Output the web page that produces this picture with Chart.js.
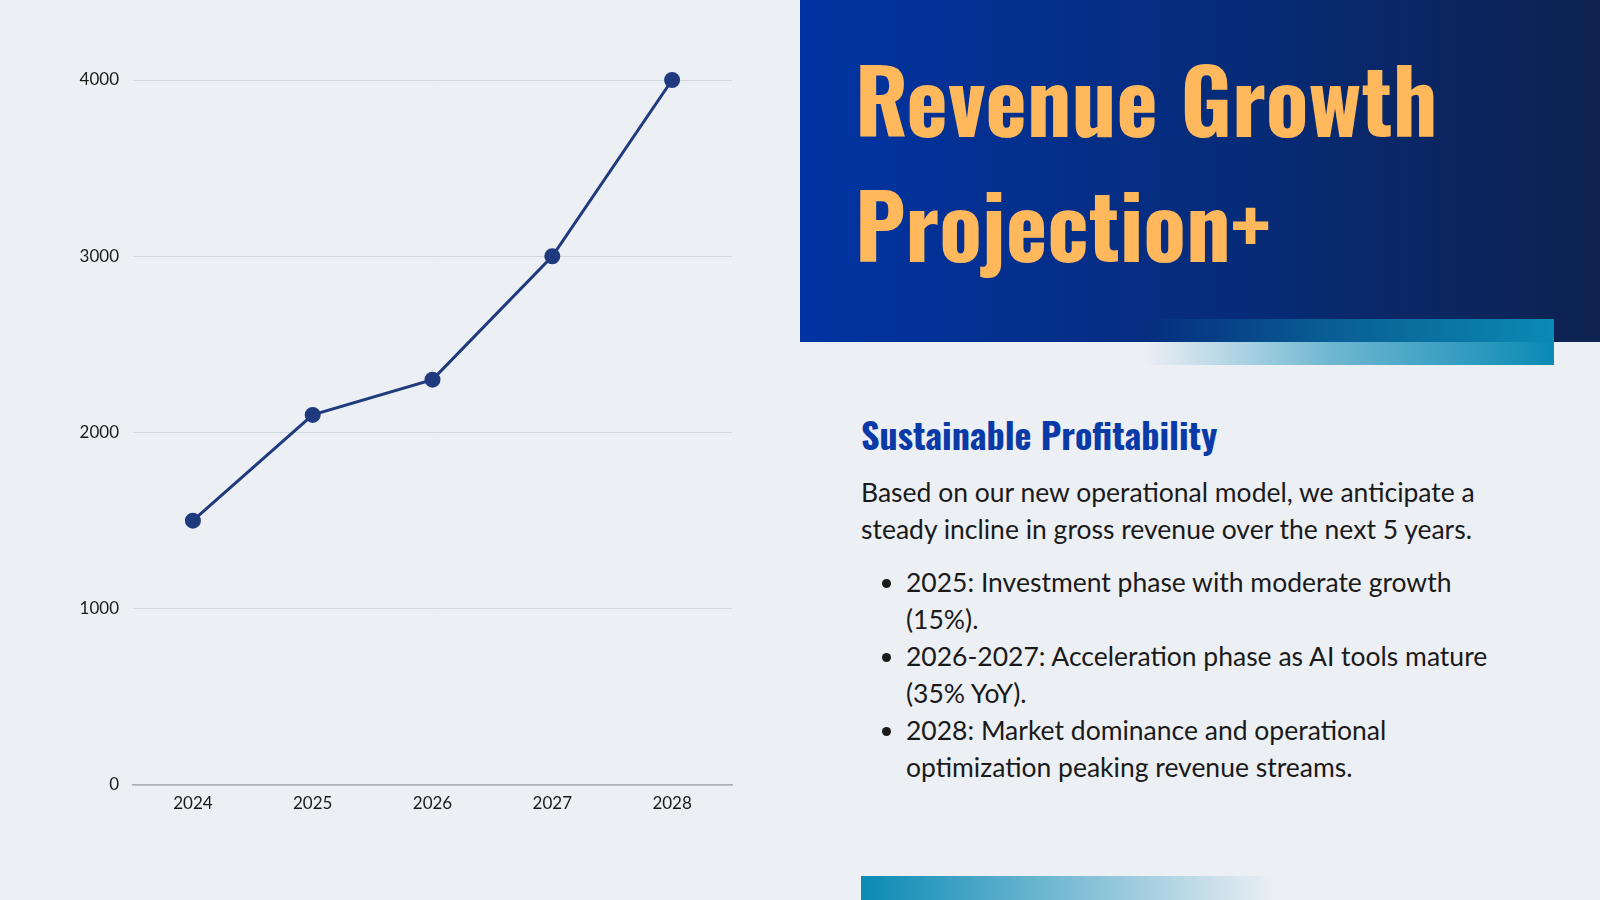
<!DOCTYPE html>
<html>
<head>
<meta charset="utf-8">
<script src="https://cdn.jsdelivr.net/npm/chart.js@4.4.1/dist/chart.umd.min.js"></script>
<style>
  html, body { margin: 0; padding: 0; }
  body {
    width: 1600px; height: 900px; overflow: hidden;
    background: #eceff4; position: relative;
    font-family: Lato, "Noto Sans", sans-serif;
  }
  #chartBox { position: absolute; left: 0; top: 0; width: 800px; height: 900px; }
  .header {
    position: absolute; left: 800px; top: 0; width: 800px; height: 342px;
    background: linear-gradient(90deg, #0134a3 0%, #062b78 55%, #0e2250 100%);
  }
  .header h1 {
    position: absolute; left: 55px; top: 35px; margin: 0;
    font-family: Oswald, "Liberation Sans Narrow", "DejaVu Sans Condensed", sans-serif;
    font-weight: 700; font-size: 88.5px; line-height: 125px;
    color: #ffb85c; letter-spacing: 0;
  }
  .accent-top {
    position: absolute; left: 1145px; top: 319px; width: 409px; height: 46px;
    background: linear-gradient(90deg, rgba(10,138,181,0) 0%, rgba(10,138,181,0.55) 45%, #0a8ab5 100%);
  }
  .content { position: absolute; left: 861px; top: 409px; width: 644px; color: #1a1a1a; }
  .content h2 {
    margin: 0 0 15px 0;
    font-family: Oswald, "Liberation Sans Narrow", "DejaVu Sans Condensed", sans-serif;
    font-weight: 700; font-size: 36px; line-height: 50px; color: #0a3aa8;
  }
  .content p { margin: 0 0 16px 0; font-size: 26.5px; line-height: 37px; }
  .content ul { margin: 0; padding-left: 45px; font-size: 26.5px; line-height: 37px; }
  .accent-bottom {
    position: absolute; left: 861px; top: 876px; width: 414px; height: 24px;
    background: linear-gradient(90deg, #0a8ab5 0%, rgba(10,138,181,0.5) 50%, rgba(10,138,181,0) 100%);
  }
</style>
</head>
<body>
<div id="chartBox"><canvas id="revenueChart"></canvas></div>

<div class="header">
  <h1>Revenue Growth<br>Projection+</h1>
</div>
<div class="accent-top"></div>

<div class="content">
  <h2>Sustainable Profitability</h2>
  <p>Based on our new operational model, we anticipate a steady incline in gross revenue over the next 5 years.</p>
  <ul>
    <li>2025: Investment phase with moderate growth (15%).</li>
    <li>2026-2027: Acceleration phase as AI tools mature (35% YoY).</li>
    <li>2028: Market dominance and operational optimization peaking revenue streams.</li>
  </ul>
</div>
<div class="accent-bottom"></div>

<script>
// Revenue projection values
const years = ["2024", "2025", "2026", "2027", "2028"];
const revenue = [1500, 2100, 2300, 3000, 4000];
const yTicks = [0, 1000, 2000, 3000, 4000];

const lineColor = '#1f3a7d';

new Chart(document.getElementById('revenueChart').getContext('2d'), {
  type: 'line',
  data: {
    labels: years,
    datasets: [{
      label: 'Revenue',
      data: revenue,
      borderColor: lineColor,
      backgroundColor: lineColor,
      borderWidth: 3,
      pointRadius: 6.5,
      pointHoverRadius: 6.5,
      tension: 0,
      fill: false,
      clip: false
    }]
  },
  options: {
    responsive: true,
    maintainAspectRatio: false,
    animation: false,
    layout: { padding: { left: 63, right: 68, top: 80, bottom: 75 } },
    plugins: {
      legend: { display: false },
      tooltip: { enabled: false }
    },
    scales: {
      x: {
        offset: true,
        grid: { display: false },
        border: { display: true, color: '#a9adb4', width: 1.5 },
        ticks: { color: '#1a1a1a', font: { family: 'Lato', size: 17 }, padding: 0 },
        afterFit: s => { s.height = 40; }
      },
      y: {
        min: yTicks[0],
        max: yTicks[yTicks.length - 1],
        afterBuildTicks: s => { s.ticks = yTicks.map(v => ({ value: v })); },
        grid: { color: '#d3d7de', lineWidth: 1, drawTicks: false },
        border: { display: false },
        ticks: {
          color: '#1a1a1a', font: { family: 'Lato', size: 17 }, padding: 14,
          callback: v => String(v)
        },
        afterFit: s => { s.width = 70; }
      }
    }
  }
});
</script>
</body>
</html>
